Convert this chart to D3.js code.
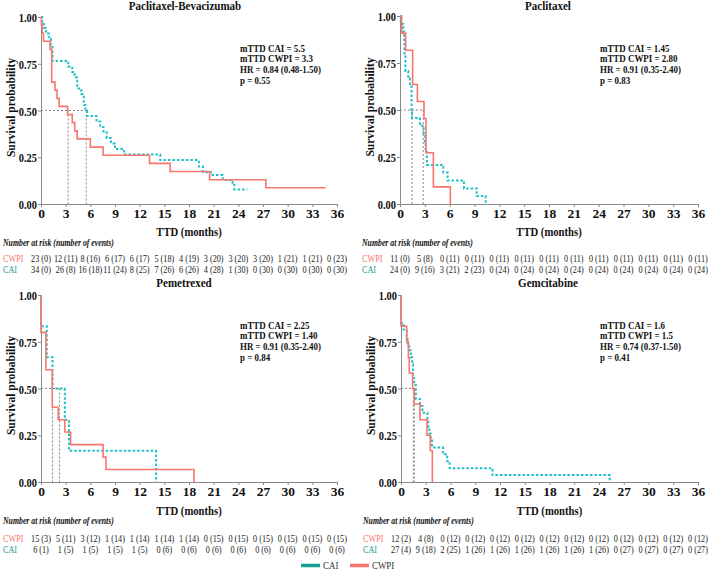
<!DOCTYPE html>
<html><head><meta charset="utf-8">
<script src="https://cdn.jsdelivr.net/npm/d3@7"></script>
<style>body{margin:0;background:#fff}svg{display:block}</style>
</head><body>
<svg id="c" width="709" height="570"></svg>
<script>
// ---------- DATA ----------
const xTicks = [0,3,6,9,12,15,18,21,24,27,30,33,36];
const yTicks = [0,0.25,0.5,0.75,1];
const panelTitles = ["Paclitaxel-Bevacizumab","Paclitaxel","Pemetrexed","Gemcitabine"];
const groupNames = ["CAI","CWPI"];
const statLines = [
  ["mTTD CAI = 5.5","mTTD CWPI = 3.3","HR = 0.84 (0.48-1.50)","p = 0.55"],
  ["mTTD CAI = 1.45","mTTD CWPI = 2.80","HR = 0.91 (0.35-2.40)","p = 0.83"],
  ["mTTD CAI = 2.25","mTTD CWPI = 1.40","HR = 0.91 (0.35-2.40)","p = 0.84"],
  ["mTTD CAI = 1.6","mTTD CWPI = 1.5","HR = 0.74 (0.37-1.50)","p = 0.41"]
];
const medianCAI  = [5.5, 1.45, 2.25, 1.6];
const medianCWPI = [3.3, 2.80, 1.40, 1.5];

// Paclitaxel-Bevacizumab
const pbCwpiTime = [0,0.05,0.15,0.3,1.1,1.3,1.7,1.95,2.2,3.23,3.8,4.1,4.4,6.0,7.55,13.2,15.7,20.5,27.35,34.6];
const pbCwpiSurv = [1,0.957,0.913,0.870,0.826,0.652,0.609,0.565,0.522,0.478,0.435,0.391,0.348,0.304,0.261,0.217,0.174,0.130,0.087,0.087];
const pbCaiTime  = [0,0.15,0.35,0.6,1.0,1.2,1.4,3.3,3.8,4.1,4.4,4.9,5.2,5.4,5.6,6.75,7.2,7.6,8.0,8.5,9.0,10.1,14.5,19.2,19.7,20.7,22.1,23.3,23.5,25.1];
const pbCaiSurv  = [1,0.971,0.941,0.912,0.882,0.853,0.765,0.735,0.706,0.676,0.618,0.588,0.529,0.5,0.471,0.441,0.412,0.382,0.353,0.324,0.294,0.265,0.235,0.2,0.17,0.155,0.128,0.114,0.078,0.078];
// Paclitaxel
const paCwpiTime = [0,0.2,0.68,1.53,2.1,2.9,3.14,4.03,6.08];
const paCwpiSurv = [1,0.909,0.818,0.636,0.545,0.455,0.273,0.091,0];
const paCaiTime  = [0,0.1,0.4,0.5,0.55,0.65,1.0,1.2,1.4,1.45,2.4,2.86,3.0,3.1,3.25,5.23,5.75,7.73,9.26,10.35];
const paCaiSurv  = [1,0.958,0.917,0.875,0.792,0.708,0.667,0.625,0.5,0.458,0.417,0.375,0.333,0.292,0.208,0.167,0.125,0.083,0.042,0];
// Pemetrexed
const peCwpiTime = [0,0,0.6,1.37,2.1,2.9,3.6,7.55,7.9,18.6];
const peCwpiSurv = [1,0.8,0.6,0.4,0.333,0.267,0.2,0.133,0.067,0];
const peCaiTime  = [0,0,0.7,1.4,2.9,3.4,14.0];
const peCaiSurv  = [1,0.833,0.667,0.5,0.333,0.167,0];
// Gemcitabine
const geCwpiTime = [0,0,0.69,0.89,1.0,1.41,1.6,2.3,3.15,3.55,3.8];
const geCwpiSurv = [1,0.833,0.75,0.667,0.583,0.5,0.417,0.333,0.25,0.167,0];
const geCaiTime  = [0,0,0.3,0.7,0.8,1.0,1.2,1.35,1.45,1.6,1.8,2.3,2.6,3.2,3.3,3.45,3.6,3.75,5.1,5.6,5.9,11.1,25.3];
const geCaiSurv  = [1,0.852,0.815,0.778,0.741,0.704,0.667,0.63,0.556,0.519,0.444,0.407,0.37,0.333,0.296,0.259,0.222,0.185,0.148,0.111,0.074,0.037,0];

// Number at risk (number of events)
const pbCwpiRisk = ["23 (0)","12 (11)","8 (16)","6 (17)","6 (17)","5 (18)","4 (19)","3 (20)","3 (20)","3 (20)","1 (21)","1 (21)","0 (23)"];
const pbCaiRisk  = ["34 (0)","26 (8)","16 (18)","11 (24)","8 (25)","7 (26)","6 (26)","4 (28)","1 (30)","0 (30)","0 (30)","0 (30)","0 (30)"];
const paCwpiRisk = ["11 (0)","5 (8)","0 (11)","0 (11)","0 (11)","0 (11)","0 (11)","0 (11)","0 (11)","0 (11)","0 (11)","0 (11)","0 (11)"];
const paCaiRisk  = ["24 (0)","9 (16)","3 (21)","2 (23)","0 (24)","0 (24)","0 (24)","0 (24)","0 (24)","0 (24)","0 (24)","0 (24)","0 (24)"];
const peCwpiRisk = ["15 (3)","5 (11)","3 (12)","1 (14)","1 (14)","1 (14)","1 (14)","0 (15)","0 (15)","0 (15)","0 (15)","0 (15)","0 (15)"];
const peCaiRisk  = ["6 (1)","1 (5)","1 (5)","1 (5)","1 (5)","0 (6)","0 (6)","0 (6)","0 (6)","0 (6)","0 (6)","0 (6)","0 (6)"];
const geCwpiRisk = ["12 (2)","4 (8)","0 (12)","0 (12)","0 (12)","0 (12)","0 (12)","0 (12)","0 (12)","0 (12)","0 (12)","0 (12)","0 (12)"];
const geCaiRisk  = ["27 (4)","9 (18)","2 (25)","1 (26)","1 (26)","1 (26)","1 (26)","1 (26)","1 (26)","0 (27)","0 (27)","0 (27)","0 (27)"];

// ---------- DRAW ----------
const COL_CWPI = "#F8766D", COL_CAI = "#1EC0C8", COL_CAI_DARK = "#16a096";
const FONT = "'Liberation Serif','Times New Roman',serif";
const svg = d3.select("#c");

function txt(sel, x, y, s, o) {
  o = o || {};
  return sel.append("text")
    .attr("transform", `translate(${x},${y}) scale(${o.sx||1},1)`)
    .attr("text-anchor", o.anchor || "start")
    .style("font-family", FONT)
    .style("font-size", (o.size||10) + "px")
    .style("font-weight", o.bold ? "bold" : "normal")
    .style("font-style", o.italic ? "italic" : "normal")
    .attr("fill", o.fill || "#111")
    .text(s);
}

const zip = (t, s) => t.map((d, i) => [d, s[i]]);

const panels = [
  {x0:41, x1:337, yTop:17, yBot:204, titleX:185, titleY:10, statX:240, statY:51.5,
   cwpi: zip(pbCwpiTime,pbCwpiSurv), cai: zip(pbCaiTime,pbCaiSurv), rCwpi: pbCwpiRisk, rCai: pbCaiRisk,
   rowY:[236,245.5,261.5,272.5]},
  {x0:400, x1:698, yTop:16, yBot:204, titleX:548, titleY:10, statX:600, statY:51.5,
   cwpi: zip(paCwpiTime,paCwpiSurv), cai: zip(paCaiTime,paCaiSurv), rCwpi: paCwpiRisk, rCai: paCaiRisk,
   rowY:[236,245.5,261.5,272.5]},
  {x0:41, x1:337, yTop:295, yBot:482, titleX:184, titleY:287, statX:240, statY:328.5,
   cwpi: zip(peCwpiTime,peCwpiSurv), cai: zip(peCaiTime,peCaiSurv), rCwpi: peCwpiRisk, rCai: peCaiRisk,
   rowY:[514.5,524,542,553]},
  {x0:401, x1:698, yTop:295, yBot:482, titleX:548, titleY:287, statX:600, statY:328.5,
   cwpi: zip(geCwpiTime,geCwpiSurv), cai: zip(geCaiTime,geCaiSurv), rCwpi: geCwpiRisk, rCai: geCaiRisk,
   rowY:[514.5,524,542,553]}
];

panels.forEach((p, i) => {
  const x = d3.scaleLinear().domain([0, 36]).range([p.x0, p.x1]);
  const y = d3.scaleLinear().domain([0, 1]).range([p.yBot, p.yTop]);
  const g = svg.append("g");

  // title
  txt(g, p.titleX, p.titleY, panelTitles[i], {size:12.5, bold:true, anchor:"middle", sx:0.88});

  // axes
  const xa = g.append("g").attr("transform", `translate(0,${p.yBot})`)
    .call(d3.axisBottom(x).tickValues(xTicks).tickSize(3).tickSizeOuter(0).tickFormat(d3.format("d")));
  xa.selectAll("text").attr("y", 14).attr("dy", 0)
    .style("font-family", FONT).style("font-size", "13.5px").style("font-weight", "bold").attr("fill", "#111");
  const ya = g.append("g").attr("transform", `translate(${p.x0},0)`)
    .call(d3.axisLeft(y).tickValues(yTicks).tickSize(3).tickSizeOuter(0).tickFormat(d3.format(".2f")));
  ya.selectAll("text").attr("x", -5).attr("dy", "0.35em").attr("transform", "scale(0.8,1)")
    .style("font-family", FONT).style("font-size", "13px").style("font-weight", "bold").attr("fill", "#111");
  [xa, ya].forEach(a => {
    a.select(".domain").attr("stroke", "#8a8a8a").attr("stroke-width", 1);
    a.selectAll(".tick line").attr("stroke", "#8a8a8a");
  });

  // y label
  g.append("text")
    .attr("transform", `translate(${p.x0 - 26},${(p.yTop + p.yBot) / 2 - 3}) rotate(-90)`)
    .attr("text-anchor", "middle")
    .style("font-family", FONT).style("font-size", "11.5px").style("font-weight", "bold")
    .attr("fill", "#111").text("Survival probability");

  // median reference lines
  const mMax = Math.max(medianCAI[i], medianCWPI[i]);
  g.append("line").attr("x1", x(0)).attr("x2", x(mMax)).attr("y1", y(0.5)).attr("y2", y(0.5))
    .attr("stroke", "#777").attr("stroke-width", 0.9).attr("stroke-dasharray", "2,2");
  [medianCAI[i], medianCWPI[i]].forEach(m => {
    g.append("line").attr("x1", x(m)).attr("x2", x(m)).attr("y1", y(0.5)).attr("y2", y(0))
      .attr("stroke", "#777").attr("stroke-width", 0.9).attr("stroke-dasharray", "2,2");
  });

  // curves
  const line = d3.line().x(d => x(d[0])).y(d => y(d[1])).curve(d3.curveStepAfter);
  g.append("path").attr("d", line(p.cai)).attr("fill", "none")
    .attr("stroke", COL_CAI).attr("stroke-width", 2).attr("stroke-dasharray", "2.5,2");
  g.append("path").attr("d", line(p.cwpi)).attr("fill", "none")
    .attr("stroke", COL_CWPI).attr("stroke-width", 1.6);

  // stats
  statLines[i].forEach((s, k) => txt(g, p.statX, p.statY + k * 10.8, s, {size:10.5, bold:true, sx:0.85}));

  // x label
  txt(g, (p.x0 + p.x1) / 2, p.rowY[0], "TTD (months)", {size:13, bold:true, anchor:"middle", sx:0.82});

  // risk table
  const lx = p.x0 - 38;
  txt(g, lx, p.rowY[1], "Number at risk (number of events)", {size:9.5, bold:true, italic:true, sx:0.82});
  txt(g, lx, p.rowY[2], groupNames[1], {size:10, fill:COL_CWPI, sx:0.82});
  txt(g, lx, p.rowY[3], groupNames[0], {size:10, fill:COL_CAI_DARK, sx:0.82});
  xTicks.forEach((t, k) => {
    txt(g, x(t), p.rowY[2], p.rCwpi[k], {size:10, fill:"#222", anchor:"middle", sx:0.82});
    txt(g, x(t), p.rowY[3], p.rCai[k], {size:10, fill:"#222", anchor:"middle", sx:0.82});
  });
});

// legend
const lg = svg.append("g");
[[groupNames[0], COL_CAI_DARK, 301], [groupNames[1], COL_CWPI, 350]].forEach(([name, col, lx]) => {
  lg.append("line").attr("x1", lx).attr("x2", lx + 19).attr("y1", 565.5).attr("y2", 565.5)
    .attr("stroke", col).attr("stroke-width", 3.5);
  txt(lg, lx + 22, 568.5, name, {size:10.5, fill:"#333", sx:0.85});
});
</script>
</body></html>
